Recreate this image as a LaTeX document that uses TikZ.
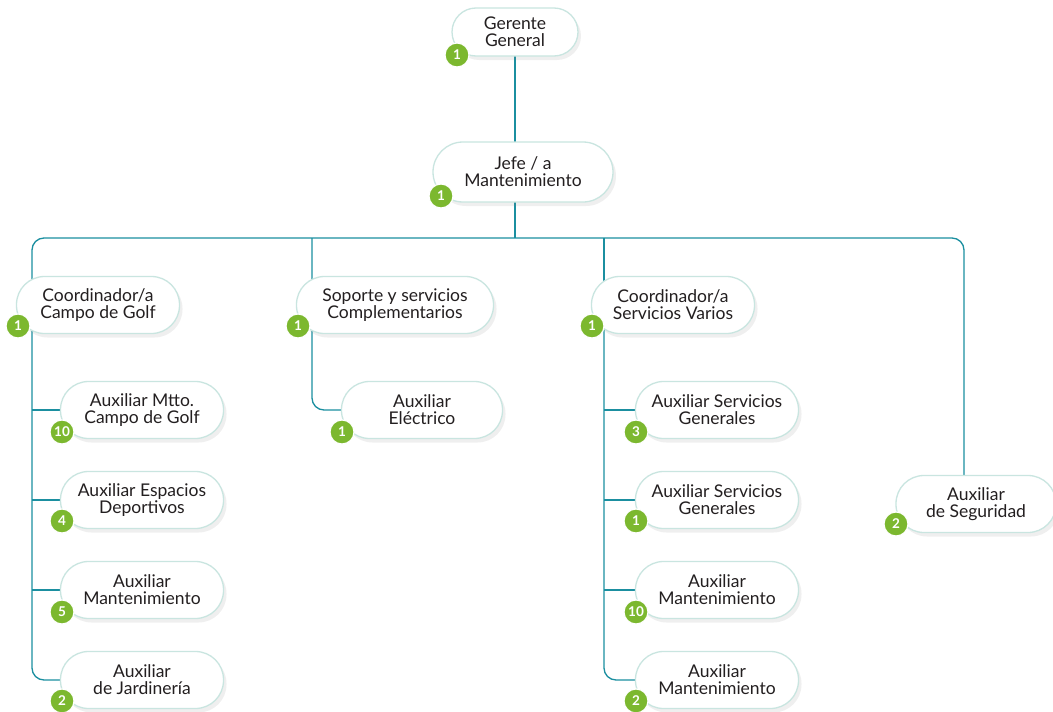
\documentclass[tikz,border=0pt]{standalone}
\usepackage{fontspec}
\setmainfont{Lato}
\usetikzlibrary{shadows,backgrounds}
\definecolor{teal1}{HTML}{1B8FA0}
\definecolor{bord}{HTML}{C9E5E0}
\definecolor{badgegreen}{HTML}{7CB82F}
\definecolor{txt}{HTML}{231F20}
\tikzset{
  box/.style={draw=bord, line width=1.3pt, fill=white, rounded corners=28pt,
    minimum height=57pt, align=center, text=txt, inner sep=2pt,
    font=\fontsize{17.5}{17}\selectfont,
    drop shadow={opacity=0.12, shadow xshift=3pt, shadow yshift=-4pt}},
  badge/.style={circle, fill=badgegreen, draw=white, line width=1.2pt,
    minimum size=24pt, inner sep=0pt, text=white,
    font=\fontsize{13.5}{13.5}\selectfont\bfseries},
  conn/.style={draw=teal1, line width=1.3pt, rounded corners=12pt}
}
\begin{document}
\begin{tikzpicture}[x=1pt,y=-1pt]
\begin{scope}[on background layer]
\fill[white] (0,0) rectangle (1053,712);
\end{scope}
\useasboundingbox (0,0) rectangle (1053,712);
% boxes
\node[box, minimum width=126pt, minimum height=48pt, rounded corners=24pt] (g) at (515,32) {Gerente\\General};
\node[box, minimum width=180pt, minimum height=60pt, rounded corners=30pt] (j) at (523,172) {Jefe / a\\Mantenimiento};
\node[box, minimum width=163pt] (c1) at (98,305) {Coordinador/a\\Campo de Golf};
\node[box, minimum width=197pt] (s) at (395,305) {Soporte y servicios\\Complementarios};
\node[box, minimum width=163pt] (c2) at (673,305) {Coordinador/a\\Servicios Varios};
\node[box, minimum width=163pt] (a1) at (142,410) {Auxiliar Mtto.\\Campo de Golf};
\node[box, minimum width=163pt] (a2) at (142,500) {Auxiliar Espacios\\Deportivos};
\node[box, minimum width=163pt] (a3) at (142,590) {Auxiliar\\Mantenimiento};
\node[box, minimum width=163pt] (a4) at (142,680) {Auxiliar\\de Jardinería};
\node[box, minimum width=161pt] (ae) at (422,410) {Auxiliar\\Eléctrico};
\node[box, minimum width=163pt] (b1) at (717,410) {Auxiliar Servicios\\Generales};
\node[box, minimum width=163pt] (b2) at (717,500) {Auxiliar Servicios\\Generales};
\node[box, minimum width=163pt] (b3) at (717,590) {Auxiliar\\Mantenimiento};
\node[box, minimum width=163pt] (b4) at (717,680) {Auxiliar\\Mantenimiento};
\node[box, minimum width=160pt] (sec) at (976,504) {Auxiliar\\de Seguridad};
% badges
\node[badge] (gb) at (457,55) {1};
\node[badge] (jb) at (441,196) {1};
\node[badge] (c1b) at (18,326) {1};
\node[badge] (sb) at (298,326) {1};
\node[badge] (c2b) at (592,326) {1};
\node[badge] (a1b) at (62,432) {10};
\node[badge] (a2b) at (62,521) {4};
\node[badge] (a3b) at (62,612) {5};
\node[badge] (a4b) at (62,701) {2};
\node[badge] (aeb) at (342,432) {1};
\node[badge] (b1b) at (636,432) {3};
\node[badge] (b2b) at (636,521) {1};
\node[badge] (b3b) at (636,612) {10};
\node[badge] (b4b) at (636,701) {2};
\node[badge] (secb) at (896,524) {2};
% connectors
\coordinate (busL) at (32,238);
\coordinate (busR) at (964,238);
\coordinate (sx) at (312,238);
\coordinate (vx) at (604,238);
\begin{scope}[on background layer]
\draw[conn] (g.center) -- (g.center |- busL);
\draw[conn] (busL |- c1.center) |- (busR) -- (busR |- sec.center);
\draw[conn] (sx) |- (ae.west);
\draw[conn] (vx) -- (vx |- c2.center);
\draw[conn] (busL |- c1.center) |- (a4.west);
\draw[conn] (busL |- a1.west) -- (a1.west);
\draw[conn] (busL |- a2.west) -- (a2.west);
\draw[conn] (busL |- a3.west) -- (a3.west);
\draw[conn] (vx |- c2.center) |- (b4.west);
\draw[conn] (vx |- b1.west) -- (b1.west);
\draw[conn] (vx |- b2.west) -- (b2.west);
\draw[conn] (vx |- b3.west) -- (b3.west);
\end{scope}
\end{tikzpicture}
\end{document}
